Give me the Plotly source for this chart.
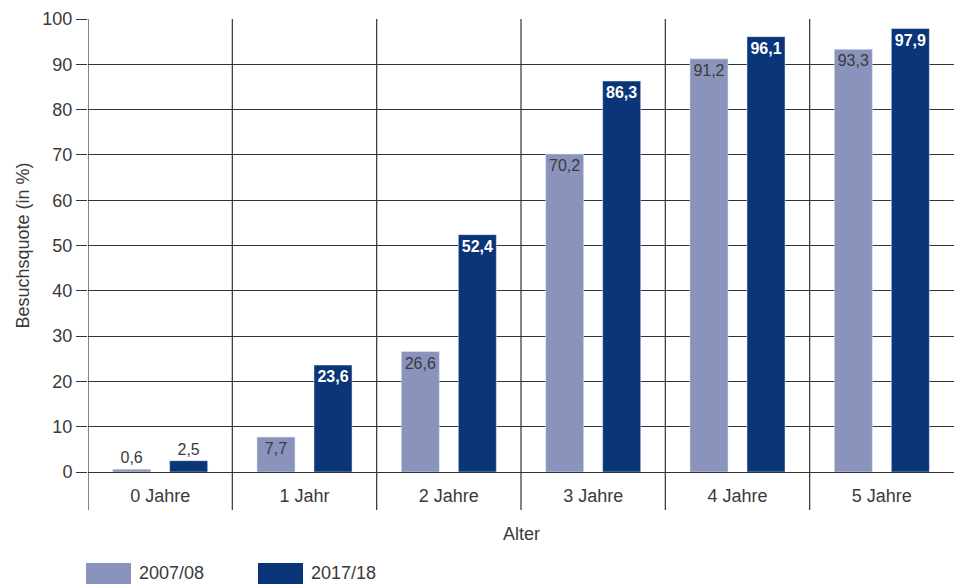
import plotly.graph_objects as go

categories = ["0 Jahre", "1 Jahr", "2 Jahre", "3 Jahre", "4 Jahre", "5 Jahre"]
series_names = ["2007/08", "2017/18"]
values_2007 = [0.6, 7.7, 26.6, 70.2, 91.2, 93.3]
values_2017 = [2.5, 23.6, 52.4, 86.3, 96.1, 97.9]
y_ticks = [0, 10, 20, 30, 40, 50, 60, 70, 80, 90, 100]

c_light = "#8a93bb"
c_dark = "#0b3579"
txt = "#3a3a3a"
grid = "#333333"
FONT = "Liberation Sans"

def fmt(v):
    return f"{v:.1f}".replace(".", ",")

def positions(vals, thr=5):
    return ["outside" if v < thr else "inside" for v in vals]

x_idx = list(range(len(categories)))

fig = go.Figure()
fig.add_trace(go.Bar(
    x=x_idx, y=values_2007, name=series_names[0], marker_color=c_light,
    text=[fmt(v) for v in values_2007], textposition=positions(values_2007),
    insidetextanchor="end",
    insidetextfont=dict(family=FONT, size=16, color=txt),
    outsidetextfont=dict(family=FONT, size=16, color=txt),
    cliponaxis=False, hoverinfo="skip",
))
fig.add_trace(go.Bar(
    x=x_idx, y=values_2017, name=series_names[1], marker_color=c_dark,
    text=[fmt(v) for v in values_2017], textposition=positions(values_2017),
    insidetextanchor="end",
    insidetextfont=dict(family=FONT, size=16, color="white", weight="bold"),
    outsidetextfont=dict(family=FONT, size=16, color=txt),
    cliponaxis=False, hoverinfo="skip",
))

PH = 453.0  # plot height in px
PW = 866.0  # plot width in px

shapes = []
# category separators extending below the axis
for i in range(len(categories)):
    shapes.append(dict(type="line", xref="x", yref="paper", x0=i - 0.5, x1=i - 0.5,
                       y0=-38 / PH, y1=1, line=dict(color=grid, width=1.2), layer="below"))

annotations = []
# legend swatches
leg = [(0.0, series_names[0], c_light), (172 / PW, series_names[1], c_dark)]
for xs, name, col in leg:
    shapes.append(dict(type="rect", xref="paper", yref="paper",
                       x0=xs - 2 / PW, x1=xs + 43 / PW,
                       y0=-(584 - 472) / PH, y1=-(563 - 472) / PH,
                       fillcolor=col, line=dict(width=0)))
    annotations.append(dict(xref="paper", yref="paper", x=xs + 49 / PW, y=-(573 - 472) / PH,
                            text=name, showarrow=False, xanchor="left", yanchor="middle",
                            font=dict(family=FONT, size=18, color=txt)))
# axis titles as annotations for exact placement
annotations.append(dict(xref="paper", yref="paper", x=0.5, y=-(534 - 472) / PH,
                        text="Alter", showarrow=False, xanchor="center", yanchor="middle",
                        font=dict(family=FONT, size=18, color=txt)))
annotations.append(dict(xref="paper", yref="paper", x=-(88 - 22) / PW, y=0.5,
                        text="Besuchsquote (in %)", showarrow=False, textangle=-90,
                        xanchor="center", yanchor="middle",
                        font=dict(family=FONT, size=18, color=txt)))

fig.update_layout(
    width=954, height=584,
    margin=dict(l=88, r=0, t=19, b=112),
    paper_bgcolor="white", plot_bgcolor="white",
    barmode="group", bargap=0.21, bargroupgap=0.333,
    showlegend=False,
    font=dict(family=FONT, size=18, color=txt),
    xaxis=dict(
        range=[-0.5, 5.5], tickmode="array", tickvals=x_idx, ticktext=categories,
        showgrid=False, zeroline=False, showline=False, ticks="outside",
        ticklen=7, tickcolor="rgba(0,0,0,0)",
        tickfont=dict(size=18, color=txt), automargin=False, fixedrange=True,
    ),
    yaxis=dict(
        range=[0, 100], tickmode="array", tickvals=y_ticks,
        showgrid=True, gridcolor=grid, gridwidth=1.2,
        zeroline=True, zerolinecolor=grid, zerolinewidth=1.2,
        showline=False, ticks="outside", ticklen=11, tickcolor=grid, tickwidth=1.2,
        tickfont=dict(size=18, color=txt), automargin=False, fixedrange=True,
    ),
    shapes=shapes,
    annotations=annotations,
)

fig.write_html("out.html", config={"displayModeBar": False},
               post_script="document.body.style.margin='0';document.body.style.overflow='hidden';")
